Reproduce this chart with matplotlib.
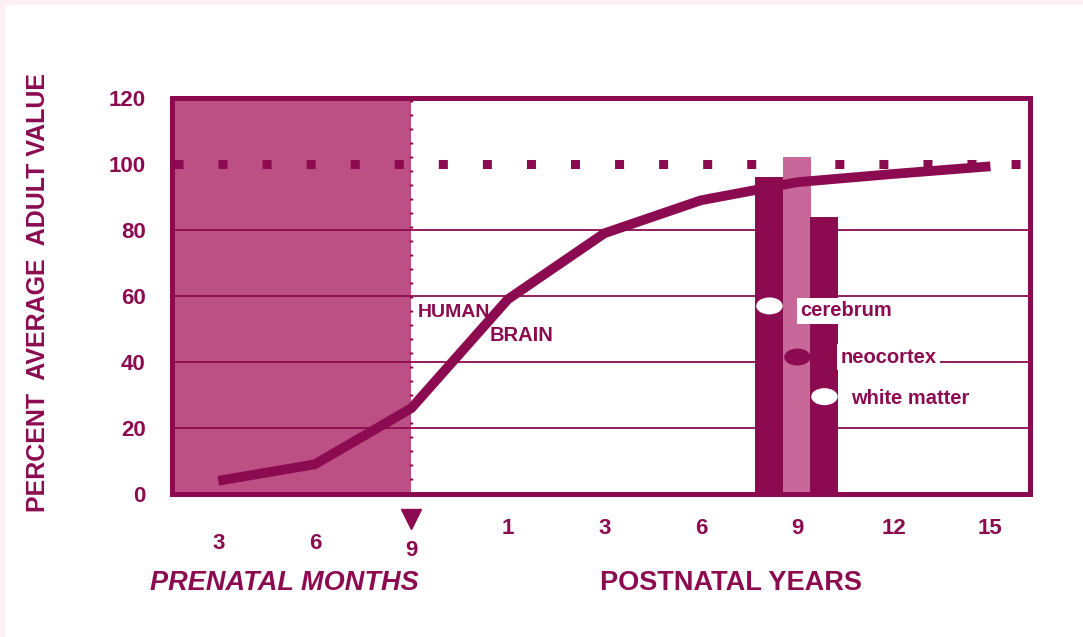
import matplotlib
matplotlib.use('Agg')
import matplotlib.pyplot as plt
from matplotlib.markers import MarkerStyle
from matplotlib.transforms import Affine2D, blended_transform_factory
from matplotlib.patches import Rectangle

plt.rcParams['font.family'] = ['Liberation Sans', 'DejaVu Sans']
plt.rcParams['font.weight'] = 'bold'

MAIN = '#8C0B50'
SHADE = '#BC4F83'
LIGHT = '#C8689A'

# age axis: three prenatal months, six postnatal years (plotted on an index scale)
age_labels = ['3', '6', '9', '1', '3', '6', '9', '12', '15']
age_pos = list(range(len(age_labels)))

# human brain growth curve, percent of average adult value
brain_pct = [4, 9, 26, 59, 79, 89, 94.5, 97, 99.3]

# regional bars near 9 postnatal years
regions = ['cerebrum', 'neocortex', 'white matter']
region_pos = [5.71, 6.0, 6.28]
region_pct = [96, 102, 84]
region_colors = [MAIN, LIGHT, MAIN]

# legend marker heights
marker_y = [57, 41.5, 29.5]
marker_face = ['white', MAIN, 'white']
label_x = [6.03, 6.45, 6.56]
label_y = [55.5, 41.5, 29]

yticks = [0, 20, 40, 60, 80, 100, 120]

fig = plt.figure(figsize=(10.83, 6.37), dpi=100)
fig.patch.set_facecolor('#FDEFF4')
fig.patches.append(Rectangle((5 / 1083, 0), 1, 1 - 5 / 637, transform=fig.transFigure,
                             facecolor='white', edgecolor='none', zorder=-5))

ax = fig.add_axes([172 / 1083, 1 - 494 / 637, 858 / 1083, 396 / 637])
ax.set_xlim(-0.48, 8.41)
ax.set_ylim(0, 120)
ax.set_facecolor('white')

# prenatal period
ax.axvspan(-0.48, 2.0, color=SHADE, lw=0, zorder=1)
ax.axvline(2.0, color=MAIN, lw=2.4, linestyle=(0, (0.6, 3.6)), zorder=2)

for g in [20, 40, 60, 80]:
    ax.axhline(g, color=MAIN, lw=1.3, zorder=2)

# adult value reference
ax.axhline(100, color=MAIN, lw=6.5, linestyle=(4.66, (1, 3.88)), zorder=2)

ax.bar(region_pos, region_pct, width=0.29, color=region_colors, zorder=3)

ax.plot(age_pos, brain_pct, color=MAIN, lw=7, solid_capstyle='butt',
        solid_joinstyle='miter', zorder=4)

ell = MarkerStyle('o', transform=Affine2D().scale(1.55, 1.0))
for i in range(len(regions)):
    ax.scatter([region_pos[i]], [marker_y[i]], s=150, marker=ell,
               facecolor=marker_face[i], edgecolor='none', zorder=5)
    ax.text(label_x[i], label_y[i], regions[i], color=MAIN, fontsize=14.5,
            fontweight='bold', va='center', ha='left', zorder=6,
            bbox=dict(facecolor='white', edgecolor='none', pad=2.5))

ax.text(2.07, 55.0, 'HUMAN', color=MAIN, fontsize=14, fontweight='bold',
        va='center', ha='left', zorder=6)
ax.text(2.81, 48.0, 'BRAIN', color=MAIN, fontsize=14.5, fontweight='bold',
        va='center', ha='left', zorder=6)

for sp in ax.spines.values():
    sp.set_color(MAIN)
    sp.set_linewidth(3.6)
    sp.set_joinstyle('round')
    sp.set_zorder(7)

ax.set_yticks(yticks)
ax.set_yticklabels([str(v) for v in yticks])
ax.set_xticks(age_pos)
ax.set_xticklabels(age_labels)
ax.tick_params(axis='both', length=0, colors=MAIN)
ax.tick_params(axis='y', pad=19, labelsize=16)
ax.tick_params(axis='x', labelsize=16)
for lab in ax.get_xticklabels() + ax.get_yticklabels():
    lab.set_fontweight('bold')
ticks = ax.xaxis.get_major_ticks()
ticks[0].set_pad(28)
ticks[1].set_pad(28)
ticks[2].set_pad(33)
for t in ticks[3:]:
    t.set_pad(17)

# birth marker
tr = blended_transform_factory(ax.transData, ax.transAxes)
ax.plot([2.0], [-0.062], marker='v', markersize=14, color=MAIN,
        transform=tr, clip_on=False)

fig.text(38 / 1083, 1 - 293 / 637, 'PERCENT  AVERAGE  ADULT VALUE', rotation=90,
         color=MAIN, fontsize=18, fontweight='bold', ha='center', va='center')
fig.text(284 / 1083, 1 - 583 / 637, 'PRENATAL MONTHS', color=MAIN, fontsize=19.5,
         fontweight='bold', fontstyle='italic', ha='center', va='center')
fig.text(731 / 1083, 1 - 583 / 637, 'POSTNATAL YEARS', color=MAIN, fontsize=19.5,
         fontweight='bold', ha='center', va='center')

fig.savefig('out.png', dpi=100, facecolor=fig.get_facecolor())
